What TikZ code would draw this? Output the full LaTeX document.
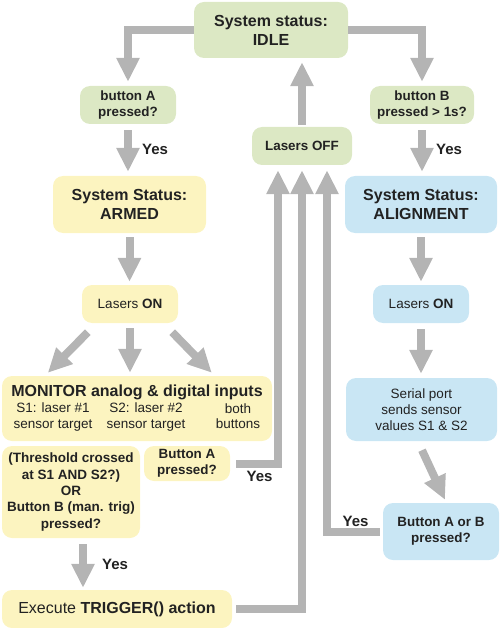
\documentclass[tikz,border=0pt]{standalone}
\usepackage{fontspec}
\setmainfont{Liberation Sans}
\usetikzlibrary{arrows.meta,calc}
\definecolor{gfill}{HTML}{DCE8C4}
\definecolor{yfill}{HTML}{FCF4C0}
\definecolor{bfill}{HTML}{C9E6F4}
\definecolor{arrc}{HTML}{B4B4B4}
\definecolor{txt}{HTML}{222222}
\begin{document}
\begin{tikzpicture}[x=1pt,y=1pt,
  box/.style={rounded corners=10pt, inner sep=0pt, align=center, text=txt},
  gbox/.style={box, fill=gfill},
  ybox/.style={box, fill=yfill},
  bbox/.style={box, fill=bfill},
  big/.style={font=\fontsize{16}{19}\selectfont\bfseries},
  small/.style={font=\fontsize{13.4}{16.5}\selectfont\bfseries},
  plain/.style={font=\fontsize{13.5}{16}\selectfont},
  mid/.style={font=\fontsize{13.5}{16.3}\selectfont\bfseries},
  txtonly/.style={inner sep=0pt, align=center, text=txt},
  yes/.style={font=\fontsize{15}{18}\selectfont\bfseries, text=txt, inner sep=0pt},
  arr/.style={draw=arrc, line width=8pt, -{Triangle[width=22pt,length=24pt]}},
]
\useasboundingbox (0,0) rectangle (500,-628);

% nodes
\node[gbox, big, minimum width=154pt, minimum height=56pt] (idle) at (271,-30) {System status:\\IDLE};
\node[gbox, small, minimum width=96pt, minimum height=38pt] (bA) at (128,-105) {button A\\pressed?};
\node[gbox, small, minimum width=104pt, minimum height=38pt] (bB) at (422,-105) {button B\\pressed > 1s?};
\node[gbox, small, minimum width=100pt, minimum height=38pt] (lo) at (302,-146) {Lasers OFF};
\node[ybox, big, minimum width=153pt, minimum height=57pt] (armed) at (129.5,-204.5) {System Status:\\ARMED};
\node[bbox, big, minimum width=152pt, minimum height=57pt] (align) at (421,-204.5) {System Status:\\ALIGNMENT};
\node[ybox, plain, minimum width=96pt, minimum height=38pt] (lonY) at (130,-304) {Lasers \textbf{ON}};
\node[bbox, plain, minimum width=96pt, minimum height=38pt] (lonB) at (421,-304) {Lasers \textbf{ON}};
\node[ybox, minimum width=270pt, minimum height=65pt] (mon) at (137,-408.5) {};
\node[txtonly, big, anchor=base] (monT) at (137,-396.5) {MONITOR analog \& digital inputs};
\node[txtonly, font=\fontsize{13.5}{15.5}\selectfont] (c1) at (53,-417) {S1: laser \#1\\sensor target};
\node[txtonly, font=\fontsize{13.5}{15.5}\selectfont] (c2) at (146,-417) {S2: laser \#2\\sensor target};
\node[txtonly, font=\fontsize{13.5}{15.5}\selectfont] (c3) at (238,-416) {both\\buttons};
\node[bbox, plain, minimum width=151pt, minimum height=63pt] (serial) at (421.5,-409.5) {Serial port\\sends sensor\\values S1 \& S2};
\node[ybox, mid, minimum width=138pt, minimum height=92pt] (thr) at (71,-492) {(Threshold crossed\\at S1 AND S2?)\\OR\\Button B (man. trig)\\pressed?};
\node[ybox, small, minimum width=86pt, minimum height=35pt] (bAs) at (187,-463.5) {Button A\\pressed?};
\node[bbox, small, minimum width=116pt, minimum height=57pt] (bAB) at (441,-531.5) {Button A or B\\pressed?};
\node[ybox, font=\fontsize{16}{19}\selectfont, minimum width=230pt, minimum height=38pt] (exec) at (117,-609) {Execute \textbf{TRIGGER() action}};

% labels
\node[yes] (y1) at (155,-149) {Yes};
\node[yes] (y2) at (449,-149) {Yes};
\node[yes] (y3) at (259.5,-476) {Yes};
\node[yes] (y4) at (355.5,-521.5) {Yes};
\node[yes] (y5) at (115,-564) {Yes};

% connectors
\draw[arr, shorten >=4pt] (idle.west) -| (bA.north);
\draw[arr, shorten >=4pt] (idle.east) -| (bB.north);
\draw[arr, shorten <=2pt, shorten >=4pt] (lo.north) -- (lo.north |- idle.south);
\draw[arr, shorten <=6pt, shorten >=4pt] (bA.south) -- (bA.south |- armed.north);
\draw[arr, shorten <=6pt, shorten >=4pt] (bB.south) -- (bB.south |- align.north);
\draw[arr, shorten <=4pt, shorten >=3pt] (armed.south) -- (armed.south |- lonY.north);
\draw[arr, shorten <=4pt, shorten >=3pt] (align.south) -- (align.south |- lonB.north);
\draw[arr, shorten <=5pt, shorten >=3pt] (lonY.south) -- (lonY.south |- mon.north);
\draw[arr] ($(lonY.south west)+(6,-9)$) -- ($(mon.north west)+(46,3)$);
\draw[arr] ($(lonY.south east)+(-6,-9)$) -- ($(mon.north west)+(210,3)$);
\draw[arr, shorten <=6pt, shorten >=4pt] (lonB.south) -- (lonB.south |- serial.north);
\draw[arr] ($(serial.south)+(0.5,-9)$) -- ($(bAB.north)+(4,3)$);
\coordinate (tA) at ($(thr.south)+(12,0)$);
\draw[arr, shorten <=6pt, shorten >=2pt] (tA) -- (tA |- exec.north);
\draw[arr, shorten <=6pt, shorten >=5pt] (bAs.east) -| ([xshift=-24pt]lo.south);
\draw[arr, shorten <=4pt, shorten >=5pt] (exec.east) -| (lo.south);
\draw[arr, shorten <=3pt, shorten >=5pt] (bAB.west) -| ([xshift=25pt]lo.south);
\end{tikzpicture}
\end{document}
